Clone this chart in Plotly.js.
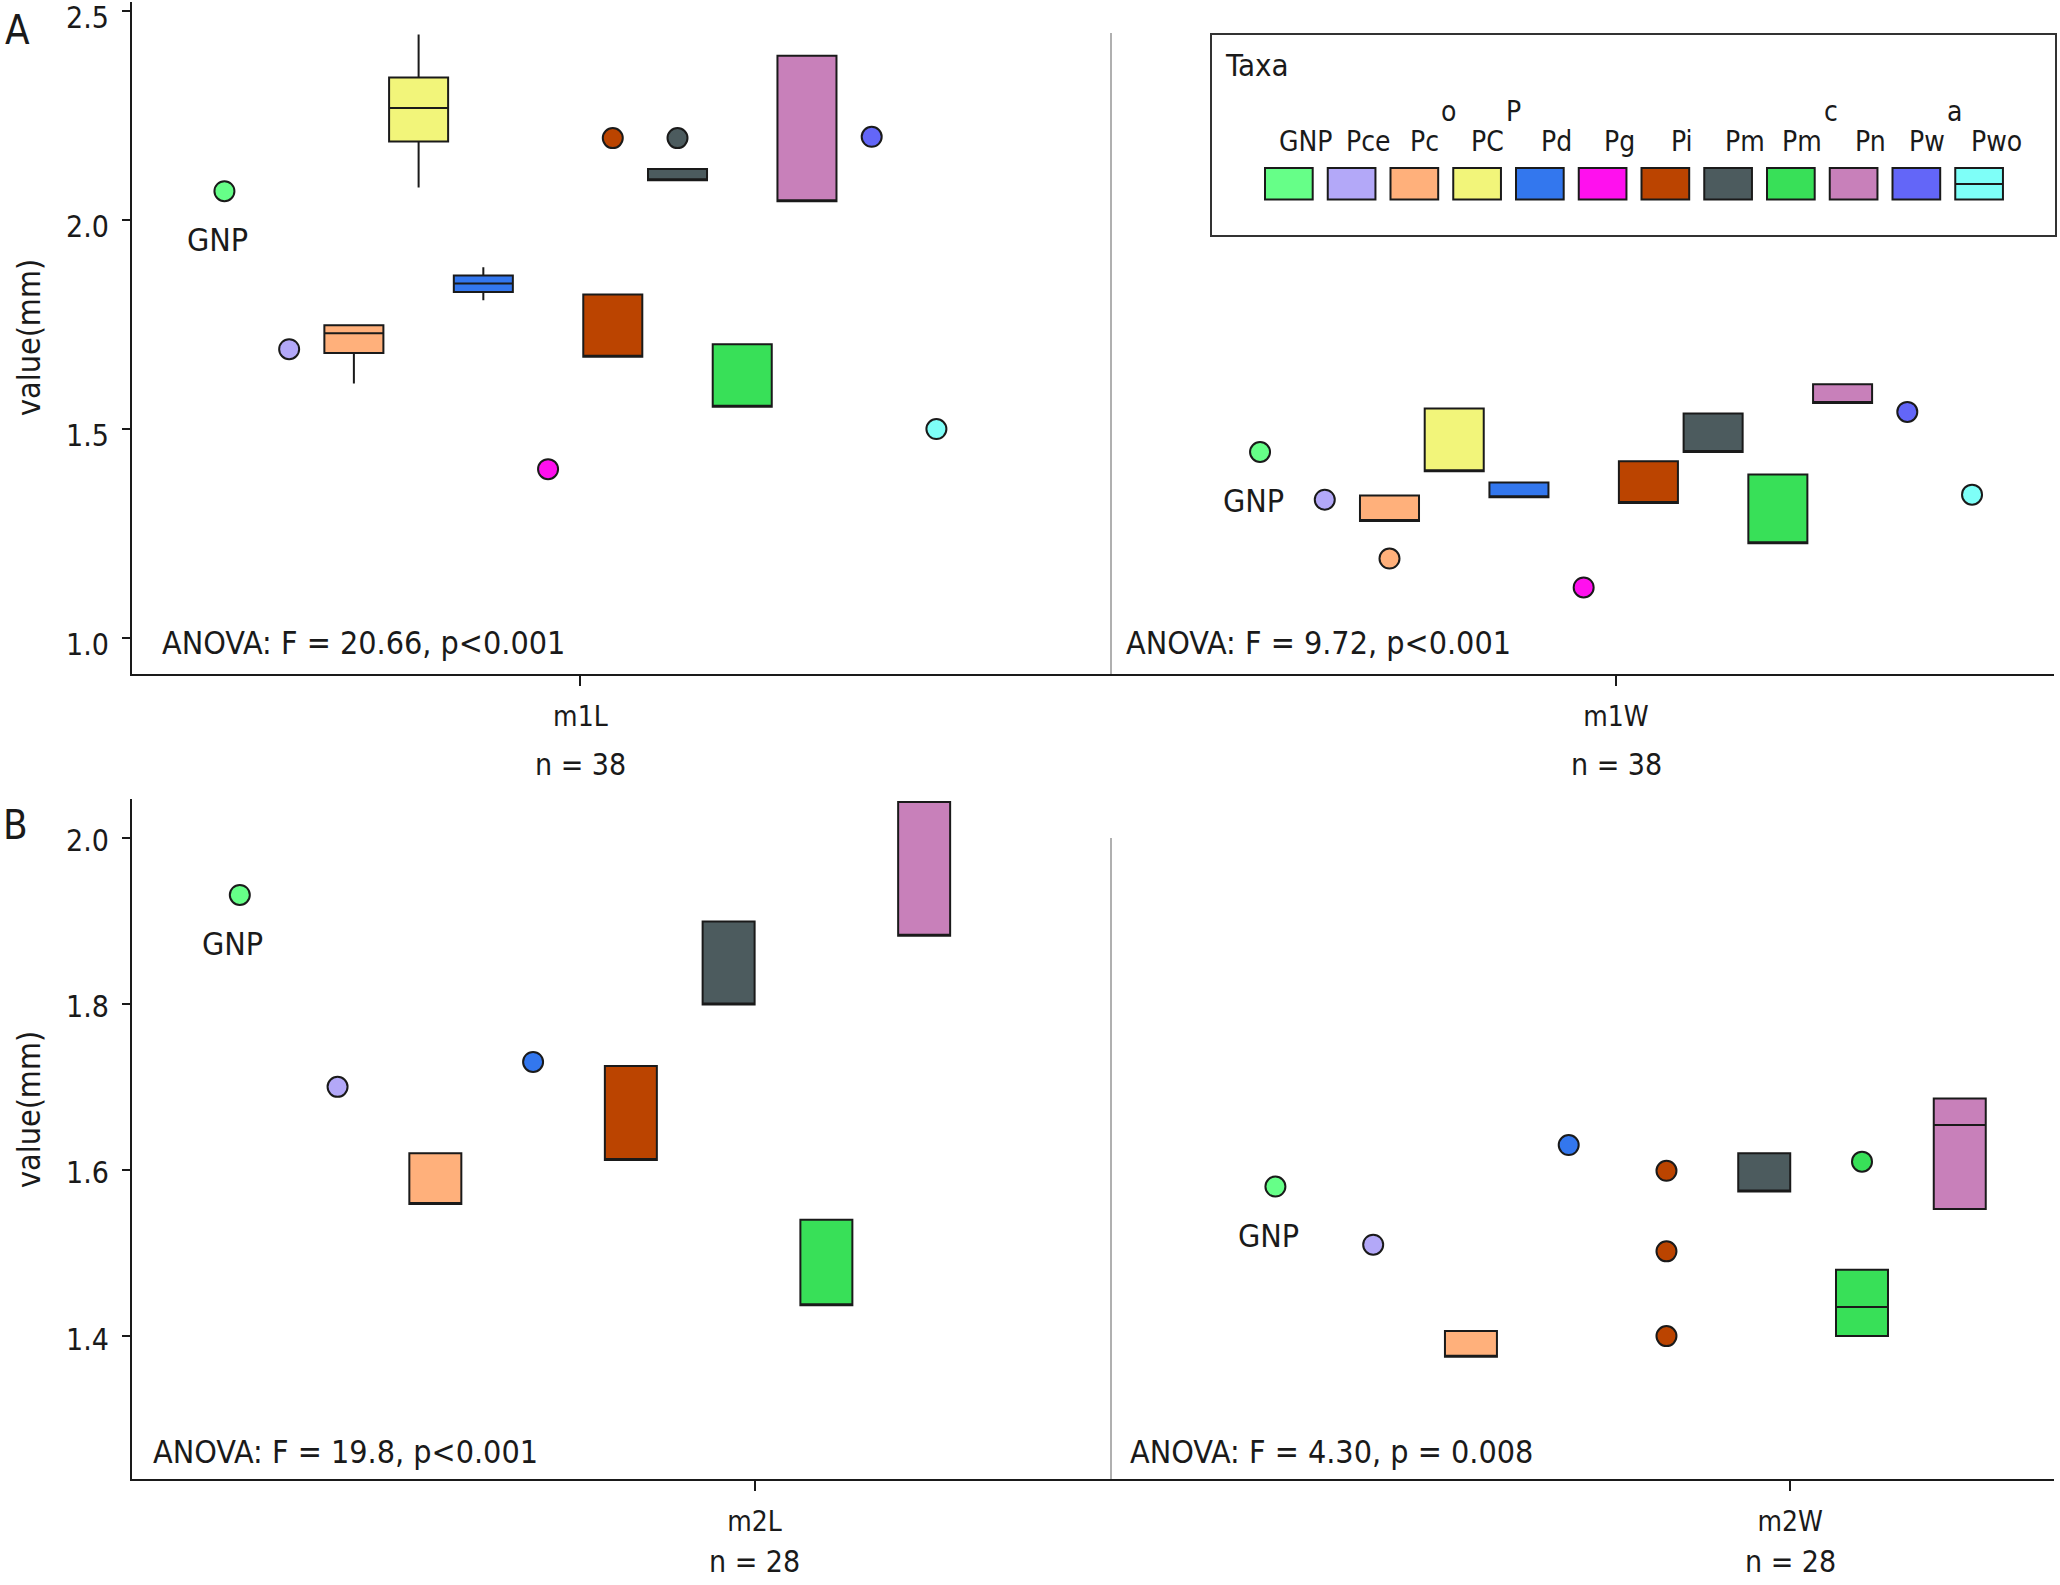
<!DOCTYPE html>
<html><head><meta charset="utf-8">
<script src="https://cdn.plot.ly/plotly-3.0.1.min.js"></script>
<style>html,body{margin:0;padding:0;background:#fff}</style>
</head><body><div id="chart" style="width:2060px;height:1585px"></div>
<script>
// ---------------- data ----------------
const taxa = ['GNP','Pce','Pco','PCP','Pd','Pg','Pi','Pm','Pmc','Pn','Pwa','Pwo'];
const legendMain   = ['GNP','Pce','Pc','PC','Pd','Pg','Pi','Pm','Pm','Pn','Pw','Pwo'];
const legendRaised = ['','','o','P','','','','','c','','a',''];
const taxaColors = ['#66FF88','#B3A8F8','#FFB07B','#F2F57A','#3377EE','#FF10EE',
                    '#BB4400','#4C5B5E','#38E058','#C880BA','#6366F8','#7EFFF8'];

const panelA_measures = ['m1L','m1W'];
const panelA_n = ['n = 38','n = 38'];
const panelA_anova = ['ANOVA: F = 20.66, p<0.001','ANOVA: F = 9.72, p<0.001'];
const panelB_measures = ['m2L','m2W'];
const panelB_n = ['n = 28','n = 28'];
const panelB_anova = ['ANOVA: F = 19.8, p<0.001','ANOVA: F = 4.30, p = 0.008'];
const panelB_taxa = ['GNP','Pce','Pco','Pd','Pi','Pm','Pmc','Pn'];

// m1L
const m1L_boxTaxa = ['Pco','PCP','Pd','Pi','Pm','Pmc','Pn'];
const m1L_q1     = [1.682,2.188,1.828,1.673,2.095,1.553,2.045];
const m1L_median = [1.729,2.268,1.848,1.673,2.095,1.553,2.045];
const m1L_q3     = [1.748,2.341,1.867,1.822,2.122,1.703,2.393];
const m1L_lower  = [1.609,2.078,1.808,1.673,2.095,1.553,2.045];
const m1L_upper  = [1.748,2.444,1.887,1.822,2.122,1.703,2.393];
const m1L_pointTaxa = ['GNP','Pce','Pg','Pi','Pm','Pwa','Pwo'];
const m1L_points    = [2.069,1.691,1.404,2.196,2.196,2.199,1.500];

// m1W
const m1W_boxTaxa = ['Pco','PCP','Pd','Pi','Pm','Pmc','Pn'];
const m1W_q1     = [1.280,1.399,1.337,1.323,1.445,1.227,1.562];
const m1W_median = [1.280,1.399,1.337,1.323,1.445,1.227,1.562];
const m1W_q3     = [1.341,1.549,1.372,1.423,1.537,1.391,1.607];
const m1W_lower  = [1.280,1.399,1.337,1.323,1.445,1.227,1.562];
const m1W_upper  = [1.341,1.549,1.372,1.423,1.537,1.391,1.607];
const m1W_pointTaxa = ['GNP','Pce','Pco','Pg','Pwa','Pwo'];
const m1W_points    = [1.445,1.331,1.190,1.121,1.541,1.343];

// m2L
const m2L_boxTaxa = ['Pco','Pi','Pm','Pmc','Pn'];
const m2L_q1     = [1.559,1.612,1.799,1.437,1.882];
const m2L_median = [1.559,1.612,1.799,1.437,1.882];
const m2L_q3     = [1.620,1.725,1.899,1.540,2.043];
const m2L_lower  = [1.559,1.612,1.799,1.437,1.882];
const m2L_upper  = [1.620,1.725,1.899,1.540,2.043];
const m2L_pointTaxa = ['GNP','Pce','Pd'];
const m2L_points    = [1.931,1.700,1.730];

// m2W
const m2W_boxTaxa = ['Pco','Pm','Pmc','Pn'];
const m2W_q1     = [1.375,1.574,1.400,1.553];
const m2W_median = [1.375,1.574,1.435,1.654];
const m2W_q3     = [1.406,1.620,1.480,1.686];
const m2W_lower  = [1.375,1.574,1.400,1.553];
const m2W_upper  = [1.406,1.620,1.480,1.686];
const m2W_pointTaxa = ['GNP','Pce','Pd','Pi','Pi','Pi','Pmc'];
const m2W_points    = [1.580,1.510,1.630,1.599,1.502,1.400,1.610];

// ---------------- layout constants ----------------
const FONT = 'DejaVu Sans Condensed, DejaVu Sans, sans-serif';
const INK = '#1a1a1a';
const M = {l:132, r:6, t:2, b:106};
const PW = 2060 - M.l - M.r, PH = 1585 - M.t - M.b;
const px2x = p => (p - M.l) / PW;
const px2y = p => (1585 - M.b - p) / PH;

const colorOf = t => taxaColors[taxa.indexOf(t)];
// slot positions inside a category group
const posA = (cat, t) => cat + (taxa.indexOf(t) - 5.5) * 0.0625;
const posB = (cat, t) => cat - 0.497 + panelB_taxa.indexOf(t) * 0.0944;

const traces = [];
const annotations = [];

function addMeasure(xa, ya, cat, posFn, boxW, mSize, boxTaxa, q1, med, q3, lo, hi, ptTaxa, pts) {
  boxTaxa.forEach((t, i) => {
    traces.push({
      type: 'box', orientation: 'v', xaxis: xa, yaxis: ya,
      x: [posFn(cat, t)], q1: [q1[i]], median: [med[i]], q3: [q3[i]],
      lowerfence: [lo[i]], upperfence: [hi[i]],
      width: boxW, whiskerwidth: 0, boxpoints: false,
      fillcolor: colorOf(t), line: {color: INK, width: 2},
      showlegend: false, name: t, hoverinfo: 'y+name'
    });
  });
  traces.push({
    type: 'scatter', mode: 'markers', xaxis: xa, yaxis: ya,
    x: ptTaxa.map(t => posFn(cat, t)), y: pts,
    marker: {size: mSize, color: ptTaxa.map(colorOf), line: {color: INK, width: 2}},
    text: ptTaxa, hoverinfo: 'text+y', showlegend: false, cliponaxis: false
  });
  const g = ptTaxa.indexOf('GNP');
  annotations.push({
    xref: xa, yref: ya, x: posFn(cat, 'GNP'), y: pts[g], text: 'GNP',
    showarrow: false, xshift: -7, yshift: -49, xanchor: 'center', yanchor: 'middle',
    font: {family: FONT, size: 32, color: INK}
  });
}

addMeasure('x','y',0,posA,0.057,20,m1L_boxTaxa,m1L_q1,m1L_median,m1L_q3,m1L_lower,m1L_upper,m1L_pointTaxa,m1L_points);
addMeasure('x','y',1,posA,0.057,20,m1W_boxTaxa,m1W_q1,m1W_median,m1W_q3,m1W_lower,m1W_upper,m1W_pointTaxa,m1W_points);
addMeasure('x2','y2',0,posB,0.0502,20,m2L_boxTaxa,m2L_q1,m2L_median,m2L_q3,m2L_lower,m2L_upper,m2L_pointTaxa,m2L_points);
addMeasure('x2','y2',1,posB,0.0502,20,m2W_boxTaxa,m2W_q1,m2W_median,m2W_q3,m2W_lower,m2W_upper,m2W_pointTaxa,m2W_points);

function txt(x, y, text, size, opts) {
  annotations.push(Object.assign({
    xref: 'paper', yref: 'paper', x: px2x(x), y: px2y(y), text: text, showarrow: false,
    xanchor: 'center', yanchor: 'middle', font: {family: FONT, size: size, color: INK}
  }, opts || {}));
}

// panel letters and y titles
txt(17, 30, 'A', 40);
txt(15, 825, 'B', 40);
txt(29, 338, 'value(mm)', 32, {textangle: -90});
txt(29, 1110, 'value(mm)', 32, {textangle: -90});

// ANOVA
txt(160, 643, panelA_anova[0], 32, {xanchor: 'left'});
txt(1124, 643, panelA_anova[1], 32, {xanchor: 'left'});
txt(151, 1452, panelB_anova[0], 32, {xanchor: 'left'});
txt(1128, 1452, panelB_anova[1], 32, {xanchor: 'left'});

// n labels under tick labels
[0,1].forEach(c => {
  annotations.push({xref:'x', yref:'paper', x:c, y:px2y(764), text:panelA_n[c], showarrow:false,
    xanchor:'center', yanchor:'middle', font:{family:FONT, size:30, color:INK}});
  annotations.push({xref:'x2', yref:'paper', x:c, y:px2y(1562), text:panelB_n[c], showarrow:false,
    xanchor:'center', yanchor:'middle', font:{family:FONT, size:30, color:INK}});
});

// ---------------- legend (drawn manually) ----------------
const shapes = [];
shapes.push({type:'rect', xref:'paper', yref:'paper', x0:px2x(1211), x1:px2x(2056), y0:px2y(236), y1:px2y(34),
  line:{color:'#333', width:2}, fillcolor:'rgba(0,0,0,0)'});
txt(1223, 65, 'Taxa', 31, {xanchor:'left'});

const cv = document.createElement('canvas').getContext('2d');
const LSIZE = 28;
cv.font = LSIZE + 'px "DejaVu Sans Condensed", "DejaVu Sans", sans-serif';
const SW0 = 1265, SWSTEP = 62.75, SWW = 47.7;
taxa.forEach((t, i) => {
  const x0 = SW0 + i * SWSTEP, cx = x0 + SWW / 2;
  shapes.push({type:'rect', xref:'paper', yref:'paper', x0:px2x(x0), x1:px2x(x0 + SWW),
    y0:px2y(199.5), y1:px2y(168), fillcolor: taxaColors[i], line:{color:INK, width:2}});
  const lc = cx + 17;
  if (legendRaised[i]) {
    const wm = cv.measureText(legendMain[i]).width, wr = cv.measureText(legendRaised[i]).width;
    const left = lc - (wm + 2 + wr) / 2;
    txt(left, 141.5, legendMain[i], LSIZE, {xanchor:'left'});
    txt(left + wm + 2, 112, legendRaised[i], LSIZE, {xanchor:'left'});
  } else {
    txt(lc, 141.5, legendMain[i], LSIZE);
  }
});
// Pwo swatch median line
shapes.push({type:'line', xref:'paper', yref:'paper', x0:px2x(SW0 + 11*SWSTEP), x1:px2x(SW0 + 11*SWSTEP + SWW),
  y0:px2y(184), y1:px2y(184), line:{color:INK, width:2}});

// group separators
shapes.push({type:'line', xref:'paper', yref:'paper', x0:px2x(1111), x1:px2x(1111), y0:px2y(674), y1:px2y(33),
  line:{color:'#b0b0b0', width:2}, layer:'below'});
shapes.push({type:'line', xref:'paper', yref:'paper', x0:px2x(1111), x1:px2x(1111), y0:px2y(1479), y1:px2y(838),
  line:{color:'#b0b0b0', width:2}, layer:'below'});

const axisCommon = {
  showline:true, linecolor:INK, linewidth:2, ticks:'outside', tickwidth:2, tickcolor:INK,
  showgrid:false, zeroline:false, ticklabeloverflow:'allow',
  tickfont:{family:FONT, size:28, color:INK}
};
const yTickFont = {family:FONT, size:30, color:INK};
const layout = {
  width:2060, height:1585, margin:M, paper_bgcolor:'#fff', plot_bgcolor:'#fff',
  showlegend:false, hovermode:'closest',
  xaxis: Object.assign({}, axisCommon, {domain:[0,1], anchor:'y', range:[-0.4330,1.4229],
    tickvals:[0,1], ticktext:panelA_measures, ticklen:10, ticklabelstandoff:6}),
  yaxis: Object.assign({}, axisCommon, {domain:[px2y(674),1], anchor:'x', range:[0.9139,2.5216],
    tickvals:[1.0,1.5,2.0,2.5], ticktext:['1.0','1.5','2.0','2.5'], ticklen:8, ticklabelstandoff:7,
    ticklabelshift:6, tickfont:yTickFont}),
  xaxis2: Object.assign({}, axisCommon, {domain:[0,1], anchor:'y2', range:[-0.6011,1.2548],
    tickvals:[0,1], ticktext:panelB_measures, ticklen:10, ticklabelstandoff:6}),
  yaxis2: Object.assign({}, axisCommon, {domain:[0,px2y(799)], anchor:'x2', range:[1.228,2.0465],
    tickvals:[1.4,1.6,1.8,2.0], ticktext:['1.4','1.6','1.8','2.0'], ticklen:8, ticklabelstandoff:7,
    ticklabelshift:3, tickfont:yTickFont}),
  shapes: shapes,
  annotations: annotations
};
Plotly.newPlot('chart', traces, layout, {staticPlot:true, displayModeBar:false});
</script></body></html>
